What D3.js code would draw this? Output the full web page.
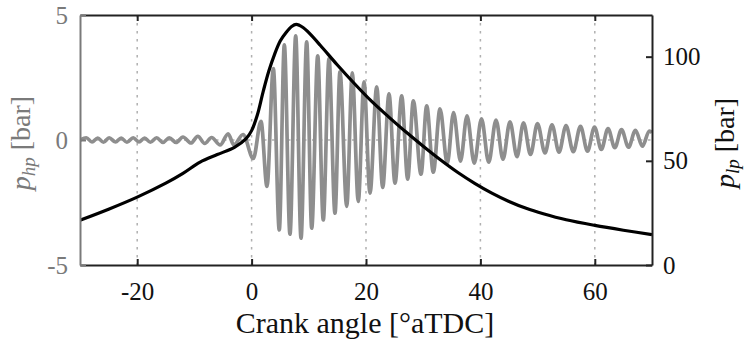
<!DOCTYPE html>
<html>
<head>
<meta charset="utf-8">
<script src="https://cdn.jsdelivr.net/npm/d3@7"></script>
<style>
  body { margin: 0; background: #fff; }
  text { font-family: "Liberation Serif", "Times New Roman", serif; }
</style>
</head>
<body>
<div id="chart"></div>
<script>
// crank angle grid of the black p_lp trace (right axis)
var lpAngle = [-30, -25, -20, -15, -12, -9, -6, -3, -1, 0, 1, 2, 3, 4, 5, 6, 7, 7.8, 9, 10, 12, 15, 18, 21, 24, 27, 30, 33, 36, 39, 42, 45, 48, 51, 55, 60, 65, 70];
var lpValue = [21.5, 26.8, 32.6, 39.3, 44.0, 49.4, 53.0, 56.5, 60.5, 64.5, 72, 83, 93, 101, 107.5, 111.5, 114.5, 115.5, 114, 111.5, 105.5, 96, 87, 78.5, 71, 63.8, 57, 50.5, 44.5, 39.2, 34.5, 30.5, 27.2, 24.6, 21.7, 19, 16.7, 14.6];

// peaks and troughs of the grey p_hp trace (left axis)
var hpAngle = [-30, -28.9, -27.9, -26.9, -25.9, -24.9, -23.8, -22.8, -21.8, -20.7, -19.7, -18.7, -17.7, -16.6, -15.5, -14.4, -13.2, -12.0, -10.6, -9.4, -8.2, -7.0, -5.5, -4.1, -3.1, -1.5,
  0.3, 1.64, 2.69, 3.8, 4.84, 5.72, 6.71, 7.71, 8.64, 9.63, 10.51, 11.56, 12.53, 13.53, 14.58, 15.45, 16.63, 17.6, 18.65, 19.65, 20.7, 21.87, 22.92, 24.02, 25.07, 26.24, 27.29, 28.27, 29.62, 30.61, 31.77, 32.94, 34.21,
  35.3, 36.52, 37.66, 38.93, 40.19, 41.45, 42.73, 43.95, 45.17, 46.4, 47.53, 48.76, 49.98, 51.29, 52.52, 53.74, 54.97, 56.24, 57.5, 58.72, 59.95, 61.14, 62.31, 63.5, 64.67, 65.89, 67.11, 68.32, 69.53, 70];
var hpValue = [0, 0.09, -0.08, 0.08, -0.09, 0.09, -0.08, 0.08, -0.09, 0.09, -0.08, 0.08, -0.09, 0.09, -0.1, 0.09, -0.1, 0.12, -0.12, 0.15, -0.14, 0.1, -0.2, 0.25, -0.2, 0.22,
  -0.74, 0.75, -1.86, 2.86, -3.6, 3.81, -3.77, 4.17, -3.93, 3.93, -3.53, 3.37, -3.2, 3.25, -2.93, 2.73, -2.66, 2.69, -2.46, 2.33, -2.13, 2.13, -1.9, 1.85, -1.73, 1.77, -1.57, 1.57, -1.37, 1.37, -1.29, 1.25, -0.94,
  1.1, -0.85, 0.97, -0.93, 0.85, -0.89, 0.8, -0.77, 0.73, -0.67, 0.69, -0.58, 0.66, -0.52, 0.61, -0.49, 0.58, -0.47, 0.55, -0.45, 0.52, -0.38, 0.46, -0.31, 0.42, -0.29, 0.39, -0.25, 0.36, 0.3];

var xTicks = [-20, 0, 20, 40, 60];
var leftTicks = [-5, 0, 5];
var rightTicks = [0, 50, 100];

var width = 744, height = 346;
var plotL = 80, plotR = 652, plotT = 15, plotB = 265;
var grey = "#8e8e8e", axisGrey = "#7a7a7a";

var svg = d3.select("#chart").append("svg")
  .attr("width", width)
  .attr("height", height)
  .style("background", "#fff");

var x = d3.scaleLinear().domain([-30, 70]).range([plotL, plotR]);
var yL = d3.scaleLinear().domain([-5, 5]).range([plotB, plotT]);
var yR = d3.scaleLinear().domain([0, 120]).range([plotB, plotT]);

svg.append("clipPath").attr("id", "clip")
  .append("rect").attr("x", plotL).attr("y", plotT).attr("width", plotR - plotL).attr("height", plotB - plotT);

// dotted grid
svg.append("g").selectAll("line").data(xTicks).enter().append("line")
  .attr("x1", function(d) { return x(d); }).attr("x2", function(d) { return x(d); })
  .attr("y1", plotT).attr("y2", plotB)
  .attr("stroke", "#b0b0b0").attr("stroke-width", 1.5).attr("stroke-dasharray", "2.5,5.5");
svg.append("line")
  .attr("x1", plotL).attr("x2", plotR).attr("y1", yL(0)).attr("y2", yL(0))
  .attr("stroke", "#b0b0b0").attr("stroke-width", 1.5).attr("stroke-dasharray", "2.5,5.5");

var plot = svg.append("g").attr("clip-path", "url(#clip)");

var hpLine = d3.line()
  .x(function(d, i) { return x(hpAngle[i]); })
  .y(function(d) { return yL(d); })
  .curve(d3.curveMonotoneX);
plot.append("path").datum(hpValue)
  .attr("d", hpLine)
  .attr("fill", "none").attr("stroke", grey).attr("stroke-width", 3.7).attr("stroke-linejoin", "round");

var lpLine = d3.line()
  .x(function(d, i) { return x(lpAngle[i]); })
  .y(function(d) { return yR(d); })
  .curve(d3.curveCatmullRom.alpha(0.5));
plot.append("path").datum(lpValue)
  .attr("d", lpLine)
  .attr("fill", "none").attr("stroke", "#000").attr("stroke-width", 3.2).attr("stroke-linejoin", "round");

// axes
var xAxis = svg.append("g").attr("transform", "translate(0," + plotB + ")")
  .call(d3.axisBottom(x).tickValues(xTicks).tickSizeInner(-6).tickSizeOuter(0).tickPadding(17).tickFormat(d3.format("d")));
var xTop = svg.append("g").attr("transform", "translate(0," + plotT + ")")
  .call(d3.axisTop(x).tickValues(xTicks).tickSizeInner(-6).tickSizeOuter(0).tickFormat(""));
var yLeft = svg.append("g").attr("transform", "translate(" + plotL + ",0)")
  .call(d3.axisLeft(yL).tickValues(leftTicks).tickSizeInner(-6).tickSizeOuter(0).tickPadding(12).tickFormat(d3.format("d")));
var yRight = svg.append("g").attr("transform", "translate(" + plotR + ",0)")
  .call(d3.axisRight(yR).tickValues(rightTicks).tickSizeInner(-6).tickSizeOuter(0).tickPadding(11).tickFormat(d3.format("d")));

[xAxis, xTop, yRight].forEach(function(g) {
  g.select(".domain").attr("stroke", "#222").attr("stroke-width", 2);
  g.selectAll(".tick line").attr("stroke", "#222").attr("stroke-width", 2);
});
yLeft.select(".domain").attr("stroke", axisGrey).attr("stroke-width", 2);
yLeft.selectAll(".tick line").attr("stroke", axisGrey).attr("stroke-width", 2);

svg.selectAll(".tick text").attr("font-family", "Liberation Serif").attr("font-size", 25).attr("fill", "#111");
yLeft.selectAll(".tick text").attr("fill", axisGrey);
xAxis.selectAll(".tick text").text(function(d) { return d < 0 ? "-" + Math.abs(d) : d; });
yLeft.selectAll(".tick text").text(function(d) { return d < 0 ? "-" + Math.abs(d) : d; });

// labels
svg.append("text")
  .attr("x", (plotL + plotR) / 2 - 1).attr("y", 333)
  .attr("text-anchor", "middle")
  .attr("font-size", 30).attr("fill", "#111")
  .text("Crank angle [\u00B0aTDC]");

var yl = svg.append("text")
  .attr("transform", "translate(30,143) rotate(-90)")
  .attr("text-anchor", "middle")
  .attr("font-size", 28).attr("fill", axisGrey);
yl.append("tspan").attr("font-style", "italic").text("p");
yl.append("tspan").attr("font-style", "italic").attr("font-size", 19).attr("dy", 5).text("hp");
yl.append("tspan").attr("dy", -5).text(" [bar]");

var yr = svg.append("text")
  .attr("transform", "translate(734,143) rotate(-90)")
  .attr("text-anchor", "middle")
  .attr("font-size", 28).attr("fill", "#111");
yr.append("tspan").attr("font-style", "italic").text("p");
yr.append("tspan").attr("font-style", "italic").attr("font-size", 19).attr("dy", 5).text("lp");
yr.append("tspan").attr("dy", -5).text(" [bar]");
</script>
</body>
</html>
